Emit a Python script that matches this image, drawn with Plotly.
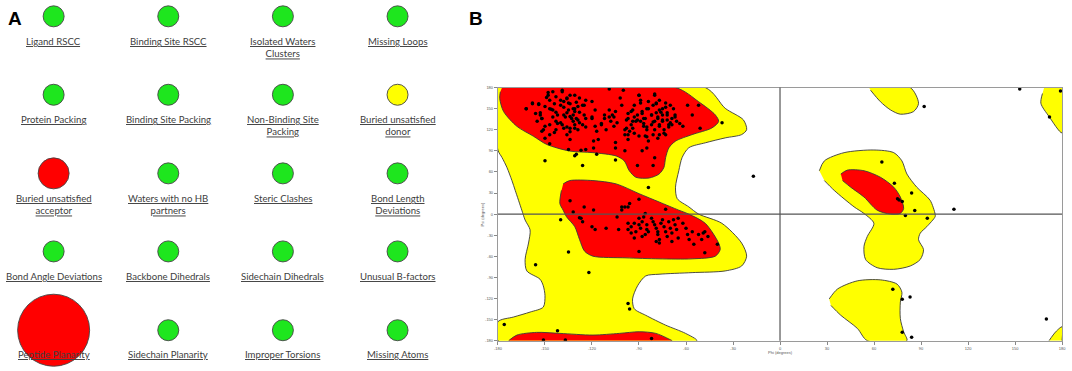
import plotly.graph_objects as go

W, H = 1072, 371

# ---------------- Panel A data ----------------
metric_labels = [
    "Ligand RSCC", "Binding Site RSCC", "Isolated Waters|Clusters", "Missing Loops",
    "Protein Packing", "Binding Site Packing", "Non-Binding Site|Packing", "Buried unsatisfied|donor",
    "Buried unsatisfied|acceptor", "Waters with no HB|partners", "Steric Clashes", "Bond Length|Deviations",
    "Bond Angle Deviations", "Backbone Dihedrals", "Sidechain Dihedrals", "Unusual B-factors",
    "Peptide Planarity", "Sidechain Planarity", "Improper Torsions", "Missing Atoms",
]
metric_status = ["pass"] * 7 + ["warn", "fail"] + ["pass"] * 7 + ["severe"] + ["pass"] * 3

# ---------------- Panel B data (phi, psi in degrees) ----------------
ticks = [-180, -150, -120, -90, -60, -30, 0, 30, 60, 90, 120, 150, 180]

allowed_main_phi = [-180, -47.7, -35.0, -23.4, -21.3, -24.5, -35.0, -47.7, -58.2, -62.5, -64.6, -66.7, -65.6,
                    -58.2, -51.9, -37.1, -24.5, -21.3, -24.5, -35.0, -56.1, -77.2, -85.7, -90.9, -94.1, -93.0,
                    -85.7, -73.0, -60.3, -53.0, -180, -180, -170.0, -159.5, -151.1, -150.0, -151.1, -153.2,
                    -161.6, -162.7, -160.5, -159.5, -162.7, -164.8, -169.0, -171.1, -174.3, -177.4, -180, -180]
allowed_main_psi = [180, 180, 150.5, 134.1, 120.1, 113.1, 108.4, 101.4, 94.4, 80.4, 61.7, 38.3, 22.0,
                    10.3, 0.0, -13.1, -41.1, -59.8, -73.8, -80.8, -83.2, -85.5, -87.9, -101.9, -120.6, -134.6,
                    -143.9, -157.9, -169.6, -180, -180, -153, -146.3, -139.3, -132.2, -115.9, -101.9, -92.5,
                    -80.8, -64.5, -41.1, -22.4, -8.4, 5.6, 33.7, 47.7, 66.4, 80.4, 91, 180]

allowed_top_phi = [56.8, 83.1, 88.4, 85.2, 76.8, 70.5, 64.1, 57.8]
allowed_top_psi = [180, 180, 157.5, 145.8, 142.1, 148.2, 159.8, 176.2]

allowed_corner_top_phi = [168.6, 180, 180, 171.7, 166.5, 167.5]
allowed_corner_top_psi = [180, 180, 115.5, 138.8, 157.5, 171.5]

allowed_lalpha_phi = [25.1, 28.3, 40.9, 59.9, 72.6, 77.8, 81.0, 87.3, 95.8, 99.0, 99.0, 93.7, 89.5, 88.4, 91.6,
                      89.5, 83.1, 72.6, 62.0, 54.6, 53.6, 55.7, 59.9, 53.6, 47.3, 34.6, 28.3]
allowed_lalpha_psi = [61.7, 75.7, 87.4, 91.2, 87.4, 75.7, 57.0, 38.3, 19.7, 0, -3.7, -17.8, -27.1, -36.4, -50.5,
                      -64.5, -73.8, -78.5, -76.2, -64.5, -45.8, -31.8, -13.1, 0.9, 10.3, 33.7, 47.7]

allowed_low_phi = [31.4, 36.7, 49.4, 64.1, 74.7, 77.8, 76.8, 76.8, 78.9, 81.0, 55.7, 49.4, 38.8, 32.5]
allowed_low_psi = [-120.6, -106.5, -94.9, -93.5, -99.5, -111.2, -125.2, -148.6, -167.3, -180, -180, -162.6,
                   -143.9, -129.9]

allowed_corner_bot_phi = [171.7, 176.0, 180, 180]
allowed_corner_bot_psi = [-180, -167.3, -160.3, -180]

fav_beta_phi = [-177.4, -66.7, -51.9, -41.3, -39.2, -43.5, -56.1, -66.7, -70.9, -73.0, -74.1, -77.2, -83.5,
                -92.0, -96.2, -99.4, -104.6, -119.4, -134.2, -148.9, -157.4, -167.9, -176.4, -178.9, -178.5]
fav_beta_psi = [180, 180, 159.8, 141.1, 131.8, 122.5, 113.1, 103.8, 94.4, 80.4, 66.4, 57.0, 51.4,
                52.4, 61.7, 75.7, 82.7, 87.4, 89.7, 99.1, 110.8, 124.8, 145.8, 164.5, 173.9]

fav_alpha_phi = [-138.4, -134.2, -119.4, -104.6, -89.9, -77.2, -64.6, -58.2, -47.7, -39.2, -38.2, -41.3, -56.1,
                 -77.2, -98.3, -119.4, -124.7, -127.9, -131.0, -136.3, -138.4, -140.5, -139.5]
fav_alpha_psi = [43.0, 47.7, 47.7, 43.0, 29.0, 17.3, 5.6, 0, -13.1, -41.1, -50.5, -59.8, -63.6,
                 -63.6, -62.2, -59.8, -52.8, -36.4, -17.8, -3.7, 5.6, 15.0, 33.7]

fav_low_phi = [-173.2, -167.9, -155.3, -140.5, -119.4, -102.5, -89.9, -79.3, -68.8]
fav_low_psi = [-180, -172, -168.2, -169.6, -172, -169.6, -167.3, -169.6, -180]

fav_lalpha_phi = [38.8, 43.0, 53.6, 64.1, 72.6, 76.8, 78.9, 76.8, 70.5, 62.0, 53.6, 45.1, 39.9]
fav_lalpha_psi = [57.0, 62.6, 61.7, 52.4, 38.3, 24.3, 8.0, 1.0, 0, 5.6, 24.3, 38.3, 47.7]

res_phi = [
    -162, -158, -154, -153, -155, -152, -150, -147, -148, -147, -145, -143, -140, -139, -138, -136, -135, -134,
    -131, -129, -128, -125, -124, -120, -147, -145, -142, -138, -136, -134, -132, -131, -130, -128, -140, -143,
    -138, -134, -144, -136, -134, -152, -150, -147, -143, -132, -131, -129, -126, -124, -120, -118, -117, -119,
    -116, -124, -127, -131, -130, -135, -119, -117, -114, -111, -112, -108, -107, -105, -109, -102, -101, -100,
    -109, -104, -106, -105, -105, -99, -98, -97, -96, -94, -95, -93, -90, -89, -91, -88, -87, -85, -84, -80,
    -79, -77, -75, -73, -72, -70, -69, -67, -66, -62, -59, -56, -52, -51, -37, -89, -87, -85, -82, -80, -78,
    -77, -75, -74, -73, -71, -77, -81, -84, -88, -85, -80, -81, -91, -97, -92, -90, -86, -99, -94, -82, -79,
    -75, -72, -70, -69, -77, -81,
    -162, -158, -154, -153, -150, -149, -148, -146, -145, -144, -143, -140, -139, -138, -137, -136, -135, -134,
    -133, -132, -131, -130, -129, -128, -126, -125, -124, -120, -118, -114, -112, -109, -106, -151, -147, -142,
    -139, -136, -134, -131, -152, -156,
    -97, -94, -93, -91, -90, -89, -88, -87, -86, -85, -84, -82, -81, -80, -79, -78, -77, -76, -75, -74, -73,
    -72, -71, -99, -97, -95, -98, -68, -64, -67, -80, -85, -78, -93,
    -150, -126, -105, -84, -17,
    -134, -132, -125, -119, -101, -99, -96, -90, -86, -73,
    -128, -127, -126, -140, -120, -118, -111, -103, -97, -101, -104, -97, -95, -93, -97, -95, -93, -90, -90,
    -89, -88, -87, -85, -85, -84, -86, -82, -81, -80, -79, -78, -78, -77, -76, -75, -74, -73, -72, -71, -70,
    -69, -69, -68, -67, -66, -65, -62, -60, -59, -58, -56, -55, -52, -50, -49, -48, -46, -40, -48, -90, -135,
    -65, -79, -77, -88, -92,
    -156, -122, -97, -96, -176, -142, -151, -137, -82,
    153, 92, 172, 179, 65, 73, 84, 75, 76, 78, 86, 111, 80, 94, 72, 78, 83, 78, 84, 170,
]
res_psi = [
    150, 158, 157, 144, 132, 118, 108, 100, 169, 162, 174, 167, 155, 174, 160, 165, 158, 169,
    169, 153, 165, 155, 162, 160, 150, 148, 141, 141, 144, 139, 150, 146, 136, 130, 130, 120,
    122, 122, 116, 113, 106, 136, 125, 127, 132, 132, 127, 120, 127, 136, 136, 125, 118, 104,
    106, 92, 91, 83, 85, 92, 94, 85, 127, 120, 136, 132, 141, 146, 148, 165, 155, 176,
    178, 130, 125, 102, 94, 113, 122, 106, 118, 132, 146, 155, 169, 158, 141, 146, 136, 150, 160, 169,
    158, 162, 150, 158, 144, 155, 136, 141, 132, 125, 155, 141, 155, 122, 130, 132, 125, 120, 127, 132, 136,
    125, 132, 120, 113, 127, 113, 113, 104, 90, 94, 80, 69, 69, 136, 132, 111, 111, 90, 122, 141, 144,
    141, 134, 130, 127, 148, 155,
    150, 157, 156, 141, 153, 166, 173, 149, 138, 157, 145, 162, 176, 152, 138, 164, 148, 157,
    136, 141, 150, 159, 134, 145, 155, 141, 124, 138, 148, 129, 141, 138, 138, 120, 113, 129,
    127, 124, 117, 122, 136, 143,
    143, 148, 138, 134, 169, 162, 143, 129, 136, 124, 150, 141, 131, 120, 157, 138, 127, 145, 134, 115, 152,
    141, 124, 120, 113, 127, 134, 150, 129, 138, 171, 110, 108, 115,
    76, 69, 77, 38, 54,
    19, 3, 10, 6, 10, 10, 15, 21, 1, 7,
    -5, -6, -11, -8, -18, -22, -20, -22, 10, 6, -4, -13, -18, -13, -22, -27, -34, -6, -15,
    -20, -11, -4, -15, -22, -25, -29, -6, -11, -15, -20, -25, -29, -36, -13, -8, -18, -25, -32, -11, -20,
    -27, -39, -8, -15, -22, -34, -13, -20, -29, -36, -25, -43, -29, -36, -27, -25, -32, -43, -55, -53, -54,
    -6, -39, -41, -32, -25,
    -72, -83, -127, -135, -157, -166, -179, -179, -177,
    178, 153, 138, 175, 74, 44, 30, 22, 20, 18, 5, 7, -2, -6, -107, -121, -118, -168, -175, -149,
]

# ---------------- Figure ----------------
fig = go.Figure()

YELLOW = "#ffff00"
RED = "#ff0000"
OUTLINE = "#3a3a3a"


def region(phi, psi, color):
    fig.add_trace(go.Scatter(
        x=phi, y=psi, mode="lines", fill="toself", fillcolor=color,
        line=dict(color=OUTLINE, width=0.9, shape="spline", smoothing=0.8),
        hoverinfo="skip", showlegend=False, xaxis="x", yaxis="y",
    ))


region(allowed_main_phi, allowed_main_psi, YELLOW)
region(allowed_top_phi, allowed_top_psi, YELLOW)
region(allowed_corner_top_phi, allowed_corner_top_psi, YELLOW)
region(allowed_lalpha_phi, allowed_lalpha_psi, YELLOW)
region(allowed_low_phi, allowed_low_psi, YELLOW)
region(allowed_corner_bot_phi, allowed_corner_bot_psi, YELLOW)
region(fav_beta_phi, fav_beta_psi, RED)
region(fav_alpha_phi, fav_alpha_psi, RED)
region(fav_low_phi, fav_low_psi, RED)
region(fav_lalpha_phi, fav_lalpha_psi, RED)

fig.add_trace(go.Scatter(
    x=res_phi, y=res_psi, mode="markers",
    marker=dict(size=3.5, color="#000000", opacity=1),
    hoverinfo="skip", showlegend=False, xaxis="x", yaxis="y",
))

# Panel A circles
col_x = [50, 165.5, 281, 396.5]
row_y = [13.5, 93, 172.7, 251.8, 331.7]
status_color = {"pass": "#1ee61e", "warn": "#ffff00", "fail": "#ff0000", "severe": "#ff0000"}
status_size = {"pass": 21, "warn": 21, "fail": 31, "severe": 72}

cx = [col_x[i % 4] for i in range(len(metric_labels))]
cy = [row_y[i // 4] for i in range(len(metric_labels))]
fig.add_trace(go.Scatter(
    x=cx, y=cy, mode="markers",
    marker=dict(size=[status_size[s] for s in metric_status],
                color=[status_color[s] for s in metric_status],
                opacity=1,
                line=dict(color="#444444", width=0.9)),
    hoverinfo="skip", showlegend=False, xaxis="x2", yaxis="y2", cliponaxis=False,
))

annotations = []
for i, lab in enumerate(metric_labels):
    txt = "<br>".join("<u>" + part + "</u>" for part in lab.split("|"))
    annotations.append(dict(
        x=cx[i], y=cy[i] + 17.5, xref="x2", yref="y2", text=txt, showarrow=False,
        xanchor="center", yanchor="top", align="center",
        font=dict(family="Lato", size=9.6, color="#404040"),
    ))

annotations.append(dict(x=2 / W, y=1 - 3 / H, xref="paper", yref="paper", text="<b>A</b>",
                        showarrow=False, xanchor="left", yanchor="top",
                        font=dict(family="Liberation Sans", size=19, color="#000")))
annotations.append(dict(x=466 / W, y=1 - 3 / H, xref="paper", yref="paper", text="<b>B</b>",
                        showarrow=False, xanchor="left", yanchor="top",
                        font=dict(family="Liberation Sans", size=19, color="#000")))
annotations.append(dict(x=0, y=1 - 354 / H, xref="x", yref="paper", text="Phi (degrees)",
                        showarrow=False, xanchor="center", yanchor="middle",
                        font=dict(family="Liberation Sans", size=4, color="#555")))
annotations.append(dict(x=482 / W, y=0, xref="paper", yref="y", text="Psi (degrees)", textangle=-90,
                        showarrow=False, xanchor="center", yanchor="middle",
                        font=dict(family="Liberation Sans", size=4, color="#555")))

shapes = [
    dict(type="line", xref="x", yref="y domain", x0=0, x1=0, y0=0, y1=1,
         line=dict(color="#555555", width=1.2), layer="above"),
    dict(type="line", xref="x domain", yref="y", x0=0, x1=1, y0=0, y1=0,
         line=dict(color="#555555", width=1.2), layer="above"),
]

axis_common = dict(
    range=[-180, 180], tickvals=ticks, ticktext=[str(t) for t in ticks],
    ticks="outside", ticklen=3, tickwidth=0.8, tickcolor="#888",
    tickfont=dict(family="Liberation Sans", size=4, color="#555"),
    showline=True, mirror=True, linecolor="#9a9a9a", linewidth=1.2,
    showgrid=False, zeroline=False, fixedrange=True,
)

fig.update_layout(
    width=W, height=H,
    margin=dict(l=0, r=0, t=0, b=0),
    paper_bgcolor="white", plot_bgcolor="white",
    showlegend=False,
    xaxis=dict(domain=[497.7 / W, 1066 / W], **axis_common),
    yaxis=dict(domain=[1 - 342.3 / H, 1 - 85.7 / H], **axis_common),
    xaxis2=dict(domain=[0, 460 / W], range=[0, 460], visible=False, fixedrange=True),
    yaxis2=dict(domain=[0, 1], range=[371, 0], visible=False, fixedrange=True),
    annotations=annotations,
    shapes=shapes,
)

fig.write_html(
    "out.html",
    config={"displayModeBar": False},
    post_script="document.body.style.margin='0';document.body.style.overflow='hidden';",
)
